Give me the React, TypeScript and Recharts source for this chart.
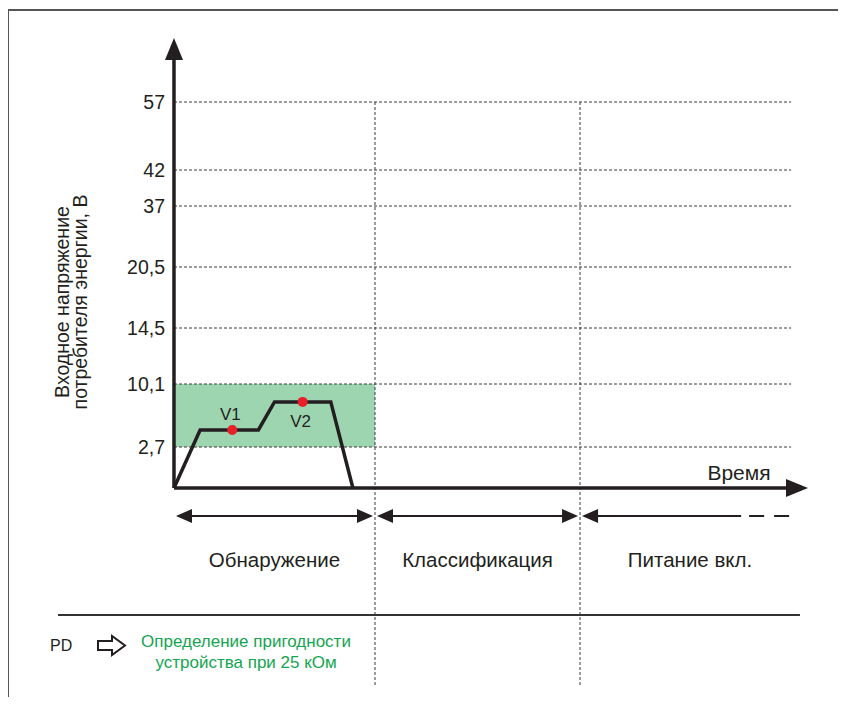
import { ComposedChart, Line, Scatter, XAxis, YAxis, ReferenceLine, ReferenceArea } from 'recharts';

// y axis is schematic: each labelled voltage sits at its own level
const voltTicks = [0, 2.7, 10.1, 14.5, 20.5, 37, 42, 57];
const tickLevels = [0, 41, 104, 160, 221, 282, 318, 386];
const tickLabels = ['0', '2,7', '10,1', '14,5', '20,5', '37', '42', '57'];

// time in arbitrary units, phases
const phaseStart = [0, 100, 202];
const phaseEnd = [100, 202, 307];
const phaseNames = ['Обнаружение', 'Классификация', 'Питание вкл.'];

// detection waveform (time, volts)
const waveT = [0, 13, 42, 50, 78, 89];
const waveV = [0, 4.7, 4.7, 8.0, 8.0, 0];
const markT = [29, 64];
const markV = [4.7, 8.0];
const markNames = ['V1', 'V2'];

const toLevel = (v: number) => {
  for (let i = 1; i < voltTicks.length; i++) {
    if (v <= voltTicks[i]) {
      const a = voltTicks[i - 1], b = voltTicks[i];
      return tickLevels[i - 1] + ((v - a) / (b - a)) * (tickLevels[i] - tickLevels[i - 1]);
    }
  }
  return tickLevels[tickLevels.length - 1];
};

const wave = waveT.map((t, i) => ({ t, lv: toLevel(waveV[i]) }));
const marks = markT.map((t, i) => ({ t, lv: toLevel(markV[i]), name: markNames[i] }));

const FONT = '"Liberation Sans", Arial, sans-serif';
const INK = '#231f20';
const X_DOMAIN = [-57.7, 315.4];
const Y_DOMAIN = [-197, 448];

const head = (x: number, y: number, dx: number, dy: number, len: number, hw: number) => {
  const bx = x - dx * len, by = y - dy * len;
  const px = -dy * hw, py = dx * hw;
  return `${x},${y} ${bx + px},${by + py} ${bx - px},${by - py}`;
};

const arrowShape = (o: { start?: boolean; end?: boolean; len: number; hw: number; w: number; dashTail?: number; label?: string; labelX?: number }) =>
  (p: any) => {
    const { x1, y1, x2, y2 } = p;
    const L = Math.hypot(x2 - x1, y2 - y1);
    const dx = (x2 - x1) / L, dy = (y2 - y1) / L;
    const sx = o.start ? x1 + dx * (o.len - 2) : x1;
    const sy = o.start ? y1 + dy * (o.len - 2) : y1;
    const ex = o.end ? x2 - dx * (o.len - 2) : x2;
    const ey = o.end ? y2 - dy * (o.len - 2) : y2;
    const solidEnd = o.dashTail ? ex - o.dashTail : ex;
    return (
      <g>
        <line x1={sx} y1={sy} x2={solidEnd} y2={ey} stroke={INK} strokeWidth={o.w} />
        {o.dashTail ? (
          <line x1={solidEnd + 8} y1={ey} x2={ex} y2={ey} stroke={INK} strokeWidth={o.w} strokeDasharray="15 10" />
        ) : null}
        {o.start ? <polygon points={head(x1, y1, -dx, -dy, o.len, o.hw)} fill={INK} /> : null}
        {o.end ? <polygon points={head(x2, y2, dx, dy, o.len, o.hw)} fill={INK} /> : null}
        {o.label ? (
          <text x={o.labelX ?? (x1 + x2) / 2} y={y1 + 51} textAnchor="middle" fontSize={20.5} fill={INK} fontFamily={FONT}>
            {o.label}
          </text>
        ) : null}
      </g>
    );
  };

const MarkDot = (p: any) => {
  const { cx, cy, payload } = p;
  const above = payload.name === 'V1';
  return (
    <g>
      <circle cx={cx} cy={cy} r={5} fill="#e8202a" />
      <text x={cx - 2} y={above ? cy - 10 : cy + 25} textAnchor="middle" fontSize={17} fill={INK} fontFamily={FONT}>
        {payload.name}
      </text>
    </g>
  );
};

const tickLabel = (text: string) => (p: any) => {
  const { viewBox } = p;
  return (
    <text x={viewBox.x - 9} y={viewBox.y + 7} textAnchor="end" fontSize={19.5} fill={INK} fontFamily={FONT}>
      {text}
    </text>
  );
};

export default function App() {
  return (
    <div style={{ position: 'relative', margin: -8, width: 846, height: 705, background: '#fff' }}>
      <ComposedChart width={846} height={705} margin={{ top: 40, right: 38, bottom: 20, left: 58 }}>
        <XAxis type="number" dataKey="t" domain={X_DOMAIN} allowDataOverflow hide />
        <YAxis type="number" dataKey="lv" domain={Y_DOMAIN} allowDataOverflow hide />

        <line x1={8} y1={10} x2={846} y2={10} stroke="#555" strokeWidth={2} />
        <line x1={8} y1={10} x2={8} y2={700} stroke="#555" strokeWidth={2} />

        <ReferenceArea x1={0} x2={phaseEnd[0]} y1={toLevel(2.7)} y2={toLevel(10.1)} fill="#9dd5b0" fillOpacity={1} stroke="none" ifOverflow="visible" />

        {tickLevels.slice(1).map((lv, i) => (
          <ReferenceLine
            key={lv}
            segment={[{ x: 0, y: lv }, { x: 307, y: lv }]}
            stroke="#3a3a3a"
            strokeDasharray="3 2"
            strokeWidth={1}
            ifOverflow="visible"
            label={tickLabel(tickLabels[i + 1])}
          />
        ))}

        {phaseStart.slice(1).map((t) => (
          <ReferenceLine
            key={t}
            segment={[{ x: t, y: tickLevels[tickLevels.length - 1] }, { x: t, y: -197 }]}
            stroke="#3a3a3a"
            strokeDasharray="3 2"
            strokeWidth={1}
            ifOverflow="visible"
          />
        ))}

        <ReferenceLine segment={[{ x: -57.7, y: -127 }, { x: 311.4, y: -127 }]} stroke="#333" strokeWidth={2} ifOverflow="visible" />

        {phaseStart.map((t, i) => (
          <ReferenceLine
            key={'ph' + t}
            segment={[{ x: t + 1, y: -28 }, { x: i < 2 ? phaseEnd[i] - 1 : phaseEnd[i], y: -28 }]}
            ifOverflow="visible"
            shape={arrowShape({
              start: true,
              end: i < 2,
              len: 16,
              hw: 7,
              w: 2,
              dashTail: i === 2 ? 50 : 0,
              label: phaseNames[i],
              labelX: i === 2 ? 690 : undefined,
            })}
          />
        ))}

        <Line data={wave} dataKey="lv" type="linear" stroke={INK} strokeWidth={3.5} dot={false} isAnimationActive={false} strokeLinejoin="miter" />
        <Scatter data={marks} dataKey="lv" shape={MarkDot} isAnimationActive={false} />

        <ReferenceLine segment={[{ x: 0, y: 0 }, { x: 0, y: 450 }]} ifOverflow="visible" shape={arrowShape({ end: true, len: 22, hw: 9, w: 3.5 })} />
        <ReferenceLine segment={[{ x: 0, y: 0 }, { x: 315.4, y: 0 }]} ifOverflow="visible" shape={arrowShape({ end: true, len: 22, hw: 9, w: 3.5 })} />

        <text x={739} y={480} textAnchor="middle" fontSize={21} fill={INK} fontFamily={FONT}>Время</text>

        <text transform="translate(69,302) rotate(-90)" textAnchor="middle" fontSize={19.5} fill={INK} fontFamily={FONT}>
          Входное напряжение
        </text>
        <text transform="translate(87,302) rotate(-90)" textAnchor="middle" fontSize={19.5} fill={INK} fontFamily={FONT}>
          потребителя энергии, В
        </text>

        <text x={50} y={651} fontSize={16} fill={INK} fontFamily={FONT}>PD</text>
        <polygon points="98,641 112,641 112,636 125,645.5 112,655 112,650 98,650" fill="none" stroke={INK} strokeWidth={2} />
        <text x={246} y={647} textAnchor="middle" fontSize={17} fill="#14a550" fontFamily={FONT}>Определение пригодности</text>
        <text x={246} y={668} textAnchor="middle" fontSize={17} fill="#14a550" fontFamily={FONT}>устройства при 25 кОм</text>
      </ComposedChart>
    </div>
  );
}
